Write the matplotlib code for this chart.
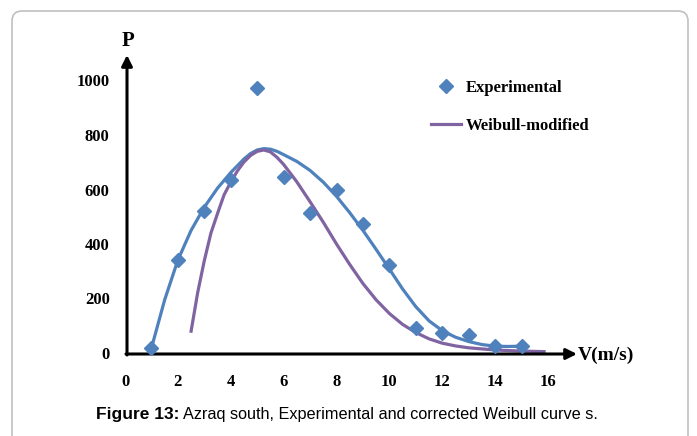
import matplotlib
matplotlib.use("Agg")
import matplotlib.pyplot as plt
from matplotlib.patches import FancyBboxPatch
from matplotlib import font_manager

# experimental points
v_exp = [1, 2, 3, 4, 5, 6, 7, 8, 9, 10, 11, 12, 13, 14, 15]
p_exp = [18, 341, 520, 635, 972, 646, 512, 598, 474, 324, 92, 75, 66, 27, 27]

# fitted curve (blue, no legend entry)
v_fit = [1.0, 1.5, 2.0, 2.5, 3.0, 3.5, 4.0, 4.5, 4.75, 5.0, 5.25, 5.5, 5.75,
         6.0, 6.5, 7.0, 7.5, 8.0, 8.5, 9.0, 9.5, 10.0, 10.5, 11.0, 11.5, 12.0,
         12.5, 13.0, 13.5, 14.0, 14.5, 15.0]
p_fit = [18, 195, 341, 450, 535, 605, 662, 712, 732, 745, 750, 748, 740,
         728, 703, 670, 627, 575, 515, 450, 380, 308, 235, 170, 118, 82,
         58, 42, 31, 25, 24, 25]

# Weibull-modified curve (purple)
v_mod = [2.5, 2.75, 3.0, 3.25, 3.5, 3.75, 4.0, 4.25, 4.5, 4.75, 5.0, 5.25,
         5.5, 5.75, 6.0, 6.5, 7.0, 7.5, 8.0, 8.5, 9.0, 9.5, 10.0, 10.5, 11.0,
         11.5, 12.0, 12.5, 13.0, 14.0, 15.0, 15.85]
p_mod = [80, 222, 339, 440, 512, 581, 627, 668, 701, 725, 740, 745,
         738, 718, 692, 628, 555, 480, 400, 325, 255, 195, 145, 105, 75,
         52, 36, 26, 19, 11, 7, 5]

x_ticks = [0, 2, 4, 6, 8, 10, 12, 14, 16]
y_ticks = [0, 200, 400, 600, 800, 1000]

BLUE = '#4F81BD'
PURPLE = '#8064A2'
serif = 'Liberation Serif'

installed = {f.name for f in font_manager.fontManager.ttflist}
narrow = 'Liberation Sans Narrow' in installed

fig = plt.figure(figsize=(6.97, 4.36), dpi=100)

# rounded frame around the figure (open at the bottom)
frame = FancyBboxPatch((0.12, -0.5), 6.76, 4.75,
                       boxstyle='round,pad=0,rounding_size=0.1',
                       transform=fig.dpi_scale_trans, ec='#C0C0C0', fc='none',
                       lw=1.2)
fig.patches.append(frame)

ax = fig.add_axes([125 / 697, 83 / 436, 423 / 697, 272.5 / 436])
ax.set_xlim(0, 16)
ax.set_ylim(0, 1000)
for s in ax.spines.values():
    s.set_visible(False)

ax.plot(v_fit, p_fit, color=BLUE, lw=2.3, clip_on=False, zorder=2)
ax.plot(v_mod, p_mod, color=PURPLE, lw=2.3, clip_on=False, zorder=3,
        label='Weibull-modified')
ax.plot(v_exp, p_exp, 'D', color=BLUE, ms=6.8, clip_on=False, zorder=4,
        label='Experimental')

ax.set_xticks(x_ticks)
ax.set_yticks(y_ticks)
ax.tick_params(length=0)
ax.tick_params(axis='x', pad=15)
ax.tick_params(axis='y', pad=11)
for lbl in ax.get_xticklabels() + ax.get_yticklabels():
    lbl.set_fontfamily(serif)
    lbl.set_fontweight('bold')
    lbl.set_fontsize(12)

# axes with arrow heads
arrow = dict(arrowstyle='-|>', color='black', lw=2.2, mutation_scale=16,
             shrinkA=0, shrinkB=0)
ax.annotate('', xy=(577, 82), xytext=(126, 82), xycoords='figure pixels',
            textcoords='figure pixels', arrowprops=arrow)
ax.annotate('', xy=(127, 381), xytext=(127, 81), xycoords='figure pixels',
            textcoords='figure pixels', arrowprops=arrow)

fig.text(128 / 697, 1 - 41 / 436, 'P', ha='center', va='center',
         family=serif, weight='bold', fontsize=15)
fig.text(578 / 697, 1 - 355 / 436, 'V(m/s)', ha='left', va='center',
         family=serif, weight='bold', fontsize=14)

handles, labels = ax.get_legend_handles_labels()
leg = ax.legend(handles[::-1], labels[::-1], loc='upper left',
                bbox_to_anchor=(431 / 697, 1 - 80 / 436),
                bbox_transform=fig.transFigure, frameon=False, borderpad=0,
                borderaxespad=0, handlelength=1.8, handletextpad=0.3,
                labelspacing=1.3, numpoints=1,
                prop={'family': serif, 'weight': 'bold', 'size': 12})

# caption: bold part, then the rest right after it
cap_y = 1 - 414 / 436
t1 = fig.text(96 / 697, cap_y, 'Figure 13:', ha='left', va='center',
              family='Liberation Sans', weight='bold', fontsize=12.5)
fig.canvas.draw()
bb = t1.get_window_extent()
rest_kw = dict(family='Liberation Sans Narrow', fontsize=13) if narrow \
    else dict(family='Liberation Sans', fontsize=11.7)
fig.text((bb.x1 + 4) / 697, cap_y,
         'Azraq south, Experimental and corrected Weibull curve s.',
         ha='left', va='center', **rest_kw)

fig.savefig('out.png', dpi=100)
